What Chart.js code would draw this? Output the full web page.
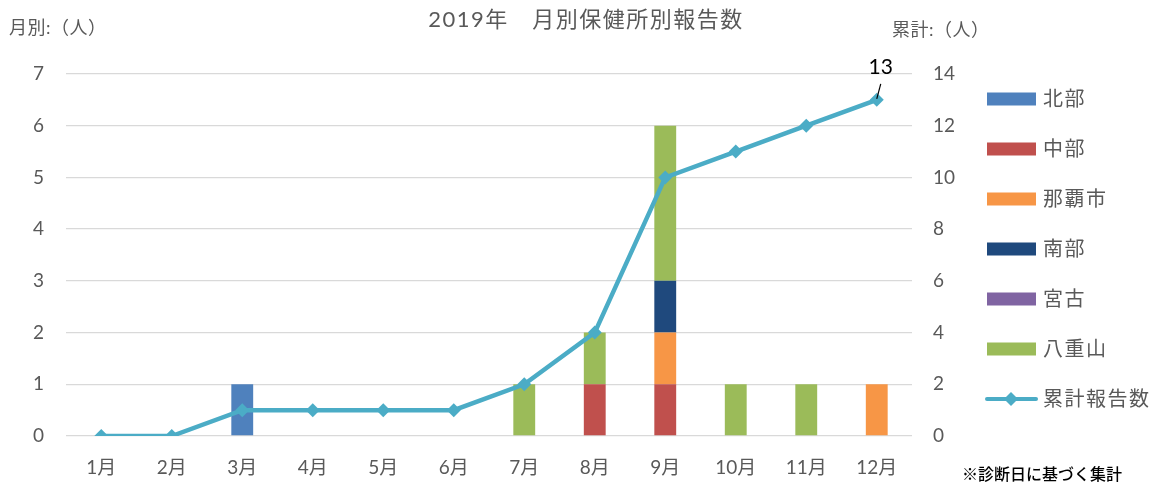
<!DOCTYPE html>
<html>
<head>
<meta charset="utf-8">
<script src="https://cdn.jsdelivr.net/npm/chart.js@4.4.1/dist/chart.umd.min.js"></script>
<style>
  html, body { margin: 0; padding: 0; background: #fff; }
  #wrap { width: 1160px; height: 486px; position: relative; }
</style>
</head>
<body>
<div id="wrap"><canvas id="chart"></canvas></div>
<script>
// chart data
const months = ['1月','2月','3月','4月','5月','6月','7月','8月','9月','10月','11月','12月'];
const hokubu   = [0,0,1,0,0,0,0,0,0,0,0,0];
const chubu    = [0,0,0,0,0,0,0,1,1,0,0,0];
const naha     = [0,0,0,0,0,0,0,0,1,0,0,1];
const nanbu    = [0,0,0,0,0,0,0,0,1,0,0,0];
const miyako   = [0,0,0,0,0,0,0,0,0,0,0,0];
const yaeyama  = [0,0,0,0,0,0,1,1,3,1,1,0];
const cumulative = [0,0,1,1,1,1,2,4,10,11,12,13];
const leftTicks = [0,1,2,3,4,5,6,7];
const rightTicks = [0,2,4,6,8,10,12,14];

const FONT = "Lato, 'Noto Sans CJK JP', sans-serif";
const TXT = '#595959';
const LINE_COLOR = '#4BACC6';

const barSets = [
  { label: '北部', data: hokubu, color: '#4F81BD' },
  { label: '中部', data: chubu, color: '#C0504D' },
  { label: '那覇市', data: naha, color: '#F79646' },
  { label: '南部', data: nanbu, color: '#1F497D' },
  { label: '宮古', data: miyako, color: '#8064A2' },
  { label: '八重山', data: yaeyama, color: '#9BBB59' }
];

function diamond(ctx, x, y, r) {
  ctx.beginPath();
  ctx.moveTo(x, y - r);
  ctx.lineTo(x + r, y);
  ctx.lineTo(x, y + r);
  ctx.lineTo(x - r, y);
  ctx.closePath();
  ctx.fill();
}

// titles, legend, note and the data label are drawn here
const decorations = {
  id: 'decorations',
  afterDraw(chart) {
    const ctx = chart.ctx;
    ctx.save();
    ctx.textBaseline = 'middle';

    ctx.fillStyle = TXT;
    ctx.font = '22px ' + FONT;
    ctx.letterSpacing = '1.5px';
    ctx.textAlign = 'center';
    ctx.fillText('2019年　月別保健所別報告数', 586, 20);

    ctx.font = '18px ' + FONT;
    ctx.letterSpacing = '0.5px';
    ctx.textAlign = 'left';
    ctx.fillText('月別:（人）', 9, 28);
    ctx.fillText('累計:（人）', 892, 30);

    // legend
    ctx.font = '20px ' + FONT;
    ctx.letterSpacing = '1.5px';
    chart.data.datasets.forEach((ds, i) => {
      const y = 99 + i * 50;
      if (ds.type === 'line') {
        ctx.strokeStyle = ds.borderColor;
        ctx.lineWidth = 4;
        ctx.lineCap = 'round';
        ctx.beginPath();
        ctx.moveTo(987, y);
        ctx.lineTo(1036, y);
        ctx.stroke();
        ctx.fillStyle = ds.borderColor;
        diamond(ctx, 1011, y, 7);
      } else {
        ctx.fillStyle = ds.backgroundColor;
        ctx.fillRect(987, y - 6.5, 49, 13);
      }
      ctx.fillStyle = TXT;
      ctx.fillText(ds.label, 1043, y + 1);
    });

    // note
    ctx.letterSpacing = '0px';
    ctx.fillStyle = '#000';
    ctx.font = '500 16px ' + FONT;
    ctx.fillText('※診断日に基づく集計', 962, 475);

    // label for last cumulative point
    const meta = chart.getDatasetMeta(chart.data.datasets.length - 1);
    const pt = meta.data[meta.data.length - 1];
    ctx.strokeStyle = '#000';
    ctx.lineWidth = 1.2;
    ctx.lineCap = 'butt';
    ctx.beginPath();
    ctx.moveTo(pt.x, pt.y - 1);
    ctx.lineTo(pt.x + 4, pt.y - 16);
    ctx.stroke();
    ctx.fillStyle = '#000';
    ctx.font = '21px ' + FONT;
    ctx.textAlign = 'center';
    ctx.fillText(String(cumulative[cumulative.length - 1]), pt.x + 4, pt.y - 33);

    ctx.restore();
  }
};

const datasets = barSets.map(s => ({
  type: 'bar',
  label: s.label,
  data: s.data,
  backgroundColor: s.color,
  yAxisID: 'y',
  order: 2,
  barPercentage: 0.31,
  categoryPercentage: 1
}));
datasets.push({
  type: 'line',
  label: '累計報告数',
  data: cumulative,
  yAxisID: 'y2',
  borderColor: LINE_COLOR,
  backgroundColor: LINE_COLOR,
  borderWidth: 4.5,
  pointStyle: 'rectRot',
  pointRadius: 7,
  pointBorderWidth: 0,
  tension: 0,
  order: 0
});

new Chart(document.getElementById('chart'), {
  data: { labels: months, datasets: datasets },
  plugins: [decorations],
  options: {
    responsive: true,
    maintainAspectRatio: false,
    animation: false,
    layout: { padding: { top: 74, right: 188, left: 0, bottom: 0 } },
    plugins: {
      legend: { display: false },
      title: { display: false },
      tooltip: { enabled: false }
    },
    scales: {
      x: {
        stacked: true,
        offset: true,
        grid: { display: false },
        border: { display: false },
        ticks: { color: TXT, font: { family: FONT, size: 19 }, padding: 12, maxRotation: 0 },
        afterFit(s) { s.height = 50; }
      },
      y: {
        stacked: true,
        min: leftTicks[0],
        max: leftTicks[leftTicks.length - 1],
        afterBuildTicks(s) { s.ticks = leftTicks.map(v => ({ value: v })); },
        grid: { color: '#D9D9D9', lineWidth: 1.3, drawTicks: false },
        border: { display: false },
        ticks: { color: TXT, font: { family: FONT, size: 19 }, padding: 22 },
        afterFit(s) { s.width = 66; }
      },
      y2: {
        position: 'right',
        min: rightTicks[0],
        max: rightTicks[rightTicks.length - 1],
        afterBuildTicks(s) { s.ticks = rightTicks.map(v => ({ value: v })); },
        grid: { display: false, drawTicks: false },
        border: { display: false },
        ticks: { color: TXT, font: { family: FONT, size: 19 }, padding: 21 },
        afterFit(s) { s.width = 60; }
      }
    }
  }
});
</script>
</body>
</html>
